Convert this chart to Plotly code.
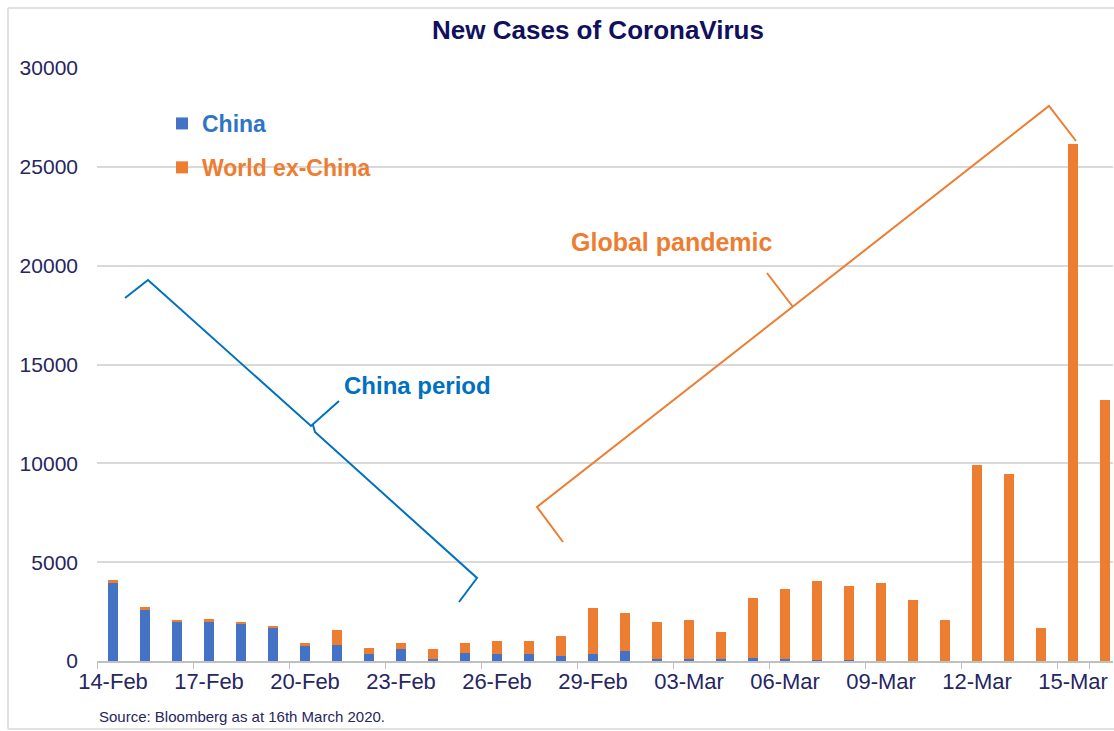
import plotly.graph_objects as go

# ---- data ----
dates = ["14-Feb", "15-Feb", "16-Feb", "17-Feb", "18-Feb", "19-Feb", "20-Feb", "21-Feb",
         "22-Feb", "23-Feb", "24-Feb", "25-Feb", "26-Feb", "27-Feb", "28-Feb", "29-Feb",
         "01-Mar", "02-Mar", "03-Mar", "04-Mar", "05-Mar", "06-Mar", "07-Mar", "08-Mar",
         "09-Mar", "10-Mar", "11-Mar", "12-Mar", "13-Mar", "14-Mar", "15-Mar", "16-Mar"]
china = [3970, 2600, 1990, 1990, 1890, 1690, 760, 790, 370, 590, 120, 405, 370, 370, 240, 370,
         525, 120, 110, 110, 130, 100, 45, 40, 20, 25, 15, 10, 10, 20, 15, 20]
world_ex_china = [120, 120, 70, 120, 100, 85, 150, 760, 290, 320, 510, 525, 640, 640, 1000, 2300,
                  1880, 1840, 1950, 1340, 3080, 3530, 3990, 3740, 3910, 3060, 2080, 9890, 9470,
                  1670, 26150, 13160]
tick_labels = dates[::3]

BLUE = "#4472C4"
ORANGE = "#ED7D31"
LINE_BLUE = "#0070C0"
NAVY = "#262660"
FONT = "Liberation Sans, Arial, sans-serif"

W, H = 1114, 731
L, R, T, B = 97, 1, 68, 70
PW, PH = W - L - R, H - T - B


def px(x):
    return (x - L) / PW


def py(y):
    return (H - B - y) / PH


def path(points):
    segs = []
    for cmd, (x, y) in points:
        segs.append(f"{cmd} {px(x):.5f} {py(y):.5f}")
    return " ".join(segs)


fig = go.Figure()
fig.add_trace(go.Bar(x=dates, y=china, name="<b><span style='color:#2E75C6'>China</span></b>",
                     marker=dict(color=BLUE, line=dict(width=0)), width=0.34,
                     legendgroup="a"))
fig.add_trace(go.Bar(x=dates, y=world_ex_china,
                     name=f"<b><span style='color:{ORANGE}'>World ex-China</span></b>",
                     marker=dict(color=ORANGE, line=dict(width=0)), width=0.34,
                     legendgroup="b"))

shapes = []
# chart border
for (x0, y0, x1, y1) in [(8, 8, 1130, 8), (8, 8, 8, 729), (8, 729, 1130, 729)]:
    shapes.append(dict(type="line", xref="paper", yref="paper",
                       x0=px(x0), y0=py(y0), x1=px(x1), y1=py(y1),
                       line=dict(color="#D9D9D9", width=1.5), layer="below"))
# China period bracket
shapes.append(dict(type="path", xref="paper", yref="paper",
                   path=path([("M", (125, 298)), ("L", (148, 280)), ("L", (311, 426)),
                              ("L", (339, 401)), ("M", (313, 425)), ("L", (315, 432)),
                              ("L", (477, 578)), ("L", (459, 602))]),
                   line=dict(color=LINE_BLUE, width=2)))
# Global pandemic bracket
shapes.append(dict(type="path", xref="paper", yref="paper",
                   path=path([("M", (563, 542)), ("L", (537, 507)), ("L", (1049, 106)),
                              ("L", (1076, 141)), ("M", (793, 307)), ("L", (767, 273))]),
                   line=dict(color=ORANGE, width=2)))

annotations = [
    dict(text="<b>China period</b>", x=px(417), y=py(386), xref="paper", yref="paper",
         xanchor="center", yanchor="middle",
         showarrow=False, font=dict(family=FONT, size=24, color=LINE_BLUE)),
    dict(text="<b>Global pandemic</b>", x=px(672), y=py(242), xref="paper", yref="paper",
         xanchor="center", yanchor="middle",
         showarrow=False, font=dict(family=FONT, size=25, color=ORANGE)),
    dict(text="Source: Bloomberg as at 16th March 2020.", x=px(97), y=py(717),
         xref="paper", yref="paper", xanchor="left", yanchor="middle", showarrow=False,
         font=dict(family=FONT, size=15, color=NAVY)),
]

fig.update_layout(
    width=W, height=H,
    margin=dict(l=L, r=R, t=T, b=B),
    paper_bgcolor="white", plot_bgcolor="white",
    barmode="stack",
    font=dict(family=FONT, color=NAVY),
    title=dict(text="<b>New Cases of CoronaVirus</b>", x=px(598), xref="paper",
               xanchor="center", y=1 - 30 / H, yref="container", yanchor="middle",
               font=dict(family=FONT, size=26, color="#10105F")),
    legend=dict(x=px(162), y=py(102), xanchor="left", yanchor="top",
                font=dict(family=FONT, size=23), bgcolor="rgba(0,0,0,0)",
                traceorder="grouped", tracegroupgap=11, itemwidth=30),
    shapes=shapes,
    annotations=annotations,
    xaxis=dict(type="category", range=[-0.5, 31.25], tickmode="array",
               tickvals=tick_labels, ticktext=tick_labels, tickson="boundaries",
               ticks="outside", ticklen=6, tickcolor="#BFBFBF", tickangle=0,
               automargin=False,
               showline=True, linecolor="#BFBFBF", linewidth=1.5,
               showgrid=False, tickfont=dict(family=FONT, size=22, color=NAVY)),
    yaxis=dict(range=[0, 30000], dtick=5000, tickformat="d", showline=False,
               gridcolor="#D9D9D9", gridwidth=1.5, zeroline=False, automargin=False,
               ticklabelstandoff=18,
               tickfont=dict(family=FONT, size=21, color=NAVY)),
)

fig.write_html("out.html")
